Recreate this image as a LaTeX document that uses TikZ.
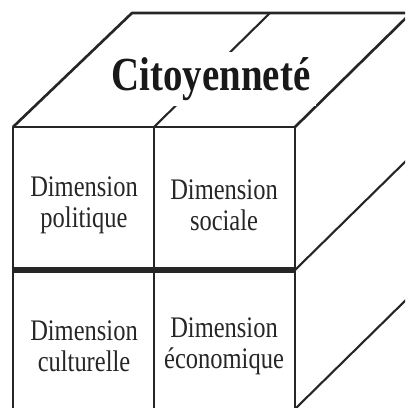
\documentclass[tikz,border=0pt]{standalone}
\usepackage{fontspec}
\setmainfont{Liberation Serif}
\newfontfamily\narrowserif[FakeStretch=0.82]{Liberation Serif}

\tikzstyle{edge} = [draw=black!85, line width=1.5pt, line join=round]
\tikzstyle{slant} = [draw=black!85, line width=1.2pt]
\tikzstyle{divider} = [draw=black!85, line width=3pt]
\tikzstyle{cell} = [align=center, font=\narrowserif\fontsize{17}{17.5}\selectfont, text=black!85]
\tikzstyle{title} = [fill=white, inner sep=3pt, font=\narrowserif\fontsize{27}{30}\selectfont\bfseries, text=black!90]

\begin{document}
\begin{tikzpicture}[x=0.02cm, y=-0.02cm]
        \useasboundingbox (0,0) rectangle (405,408);
        \clip (0,0) rectangle (405,408);
        % Corners of the cube
        \coordinate (ftl) at (13,127);
        \coordinate (ftm) at (154,127);
        \coordinate (ftr) at (295,127);
        \coordinate (fml) at (13,270);
        \coordinate (fmr) at (295,270);
        \coordinate (fbm) at (154,412);
        \coordinate (fbr) at (295,409);
        \coordinate (btl) at (132,13);
        \coordinate (btm) at (270,13);
        \coordinate (btr) at (411,13);
        \coordinate (bmr) at (411,156);
        \coordinate (bbr) at (411,295);

        % Top face
        \draw[edge] (ftl) -- (btl) -- (btr) -- (ftr);
        \draw[slant] (ftm) -- (btm);
        \node (titre) at (211,79) [title] {Citoyenneté};

        % Side face
        \draw[slant] (fmr) -- (bmr);
        \draw[slant] (fbr) -- (bbr);

        % Front face
        \draw[edge] (295,412) -- (ftr) -- (ftl) -- (13,412);
        \draw[edge] (ftm) -- (fbm);
        \draw[divider] (fml) -- (fmr);

        \node (politique) at (84,205) [cell] {Dimension\\politique};
        \node (sociale) at (224,205) [cell] {Dimension\\sociale};
        \node (culturelle) at (84,346) [cell] {Dimension\\culturelle};
        \node (economique) at (224,346) [cell] {Dimension\\économique};
    \end{tikzpicture}
\end{document}
